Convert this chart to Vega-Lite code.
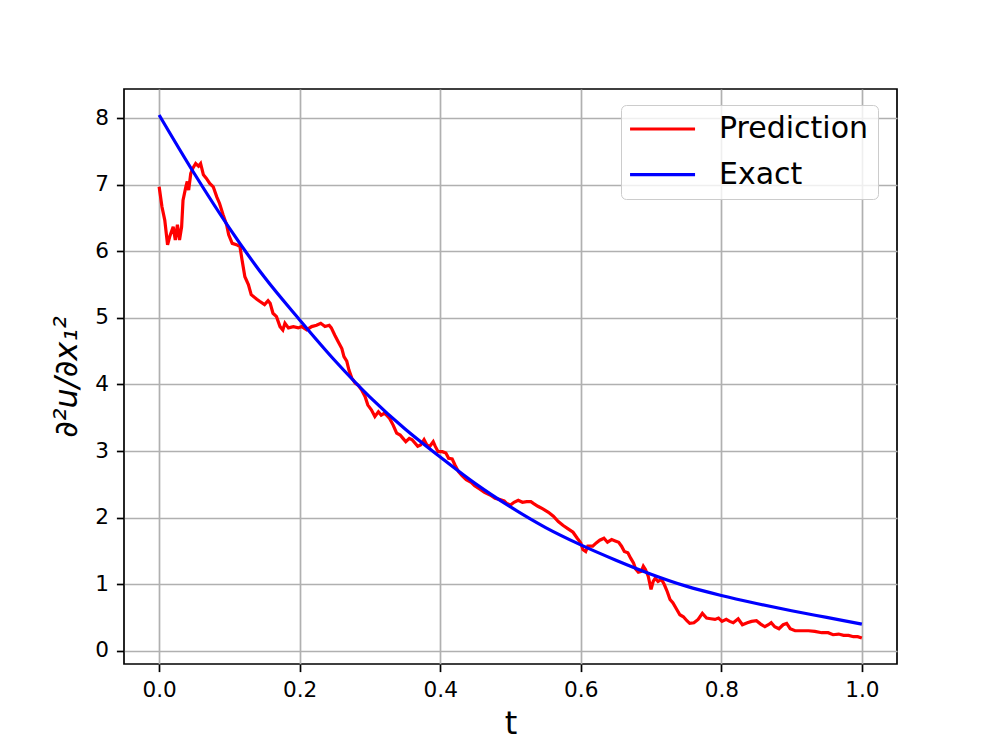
{
  "$schema": "https://vega.github.io/schema/vega-lite/v6.json",
  "width": 773,
  "height": 575,
  "autosize": {"type": "none"},
  "padding": {"left": 124, "top": 89, "right": 99, "bottom": 83},
  "background": "white",
  "config": {
    "font": "DejaVu Sans",
    "view": {"stroke": "black", "strokeWidth": 1.7},
    "axis": {
      "domain": false,
      "ticks": true,
      "tickColor": "black",
      "tickWidth": 1.7,
      "tickSize": 7.6,
      "labelFont": "DejaVu Sans",
      "labelFontSize": 21.6,
      "labelColor": "black",
      "labelPadding": 8,
      "grid": true,
      "gridColor": "#b0b0b0",
      "gridWidth": 1.7,
      "titleFont": "DejaVu Sans",
      "titleFontWeight": "normal",
      "titleColor": "black"
    },
    "legend": {
      "title": null,
      "orient": "none",
      "legendX": 497,
      "legendY": 16,
      "symbolType": "M-2.3,0H7.7",
      "symbolSize": 169,
      "symbolStrokeWidth": 3.2,
      "labelFont": "DejaVu Sans",
      "labelFontSize": 30,
      "labelColor": "black",
      "labelOffset": 59,
      "fillColor": "rgba(255,255,255,0.8)",
      "strokeColor": "#cccccc",
      "cornerRadius": 5,
      "padding": 9,
      "rowPadding": 15.7
    }
  },
  "datasets": {
    "pred": [
      {"s":"Prediction","t":0.000,"v":6.97},{"s":"Prediction","t":0.004,"v":6.67},{"s":"Prediction","t":0.008,"v":6.47},{"s":"Prediction","t":0.012,"v":6.10},{"s":"Prediction","t":0.015,"v":6.22},{"s":"Prediction","t":0.020,"v":6.37},{"s":"Prediction","t":0.023,"v":6.17},{"s":"Prediction","t":0.026,"v":6.40},{"s":"Prediction","t":0.029,"v":6.17},{"s":"Prediction","t":0.032,"v":6.37},{"s":"Prediction","t":0.034,"v":6.77},{"s":"Prediction","t":0.038,"v":6.97},{"s":"Prediction","t":0.040,"v":7.05},{"s":"Prediction","t":0.042,"v":6.92},{"s":"Prediction","t":0.045,"v":7.17},{"s":"Prediction","t":0.048,"v":7.25},{"s":"Prediction","t":0.052,"v":7.32},{"s":"Prediction","t":0.056,"v":7.28},{"s":"Prediction","t":0.059,"v":7.32},{"s":"Prediction","t":0.063,"v":7.15},{"s":"Prediction","t":0.067,"v":7.10},{"s":"Prediction","t":0.072,"v":7.02},{"s":"Prediction","t":0.077,"v":6.97},{"s":"Prediction","t":0.082,"v":6.82},{"s":"Prediction","t":0.086,"v":6.72},{"s":"Prediction","t":0.091,"v":6.55},{"s":"Prediction","t":0.096,"v":6.40},{"s":"Prediction","t":0.099,"v":6.25},{"s":"Prediction","t":0.104,"v":6.12},{"s":"Prediction","t":0.110,"v":6.10},{"s":"Prediction","t":0.115,"v":6.07},{"s":"Prediction","t":0.118,"v":5.87},{"s":"Prediction","t":0.122,"v":5.62},{"s":"Prediction","t":0.127,"v":5.50},{"s":"Prediction","t":0.131,"v":5.35},{"s":"Prediction","t":0.139,"v":5.28},{"s":"Prediction","t":0.143,"v":5.25},{"s":"Prediction","t":0.150,"v":5.20},{"s":"Prediction","t":0.155,"v":5.26},{"s":"Prediction","t":0.158,"v":5.22},{"s":"Prediction","t":0.162,"v":5.07},{"s":"Prediction","t":0.167,"v":5.02},{"s":"Prediction","t":0.172,"v":4.87},{"s":"Prediction","t":0.176,"v":4.82},{"s":"Prediction","t":0.179,"v":4.92},{"s":"Prediction","t":0.184,"v":4.85},{"s":"Prediction","t":0.191,"v":4.87},{"s":"Prediction","t":0.198,"v":4.85},{"s":"Prediction","t":0.203,"v":4.87},{"s":"Prediction","t":0.210,"v":4.82},{"s":"Prediction","t":0.217,"v":4.87},{"s":"Prediction","t":0.224,"v":4.89},{"s":"Prediction","t":0.230,"v":4.92},{"s":"Prediction","t":0.236,"v":4.87},{"s":"Prediction","t":0.242,"v":4.89},{"s":"Prediction","t":0.245,"v":4.85},{"s":"Prediction","t":0.250,"v":4.74},{"s":"Prediction","t":0.255,"v":4.64},{"s":"Prediction","t":0.260,"v":4.54},{"s":"Prediction","t":0.263,"v":4.42},{"s":"Prediction","t":0.267,"v":4.35},{"s":"Prediction","t":0.270,"v":4.22},{"s":"Prediction","t":0.274,"v":4.10},{"s":"Prediction","t":0.279,"v":4.02},{"s":"Prediction","t":0.283,"v":3.99},{"s":"Prediction","t":0.288,"v":3.92},{"s":"Prediction","t":0.293,"v":3.82},{"s":"Prediction","t":0.297,"v":3.69},{"s":"Prediction","t":0.302,"v":3.62},{"s":"Prediction","t":0.307,"v":3.52},{"s":"Prediction","t":0.312,"v":3.59},{"s":"Prediction","t":0.316,"v":3.54},{"s":"Prediction","t":0.321,"v":3.57},{"s":"Prediction","t":0.328,"v":3.49},{"s":"Prediction","t":0.333,"v":3.39},{"s":"Prediction","t":0.338,"v":3.27},{"s":"Prediction","t":0.343,"v":3.24},{"s":"Prediction","t":0.347,"v":3.19},{"s":"Prediction","t":0.351,"v":3.14},{"s":"Prediction","t":0.356,"v":3.19},{"s":"Prediction","t":0.360,"v":3.17},{"s":"Prediction","t":0.364,"v":3.12},{"s":"Prediction","t":0.368,"v":3.07},{"s":"Prediction","t":0.372,"v":3.09},{"s":"Prediction","t":0.377,"v":3.17},{"s":"Prediction","t":0.381,"v":3.09},{"s":"Prediction","t":0.385,"v":3.07},{"s":"Prediction","t":0.390,"v":3.14},{"s":"Prediction","t":0.393,"v":3.07},{"s":"Prediction","t":0.397,"v":2.99},{"s":"Prediction","t":0.403,"v":2.99},{"s":"Prediction","t":0.408,"v":2.97},{"s":"Prediction","t":0.412,"v":2.89},{"s":"Prediction","t":0.417,"v":2.88},{"s":"Prediction","t":0.421,"v":2.79},{"s":"Prediction","t":0.426,"v":2.69},{"s":"Prediction","t":0.431,"v":2.63},{"s":"Prediction","t":0.437,"v":2.57},{"s":"Prediction","t":0.444,"v":2.53},{"s":"Prediction","t":0.449,"v":2.48},{"s":"Prediction","t":0.456,"v":2.43},{"s":"Prediction","t":0.463,"v":2.38},{"s":"Prediction","t":0.471,"v":2.34},{"s":"Prediction","t":0.478,"v":2.29},{"s":"Prediction","t":0.485,"v":2.27},{"s":"Prediction","t":0.491,"v":2.25},{"s":"Prediction","t":0.495,"v":2.21},{"s":"Prediction","t":0.500,"v":2.19},{"s":"Prediction","t":0.505,"v":2.23},{"s":"Prediction","t":0.511,"v":2.26},{"s":"Prediction","t":0.517,"v":2.23},{"s":"Prediction","t":0.523,"v":2.24},{"s":"Prediction","t":0.529,"v":2.24},{"s":"Prediction","t":0.533,"v":2.21},{"s":"Prediction","t":0.539,"v":2.17},{"s":"Prediction","t":0.546,"v":2.13},{"s":"Prediction","t":0.554,"v":2.08},{"s":"Prediction","t":0.561,"v":2.02},{"s":"Prediction","t":0.568,"v":1.94},{"s":"Prediction","t":0.575,"v":1.88},{"s":"Prediction","t":0.582,"v":1.83},{"s":"Prediction","t":0.589,"v":1.78},{"s":"Prediction","t":0.595,"v":1.69},{"s":"Prediction","t":0.600,"v":1.62},{"s":"Prediction","t":0.603,"v":1.52},{"s":"Prediction","t":0.607,"v":1.49},{"s":"Prediction","t":0.610,"v":1.57},{"s":"Prediction","t":0.617,"v":1.57},{"s":"Prediction","t":0.622,"v":1.62},{"s":"Prediction","t":0.627,"v":1.66},{"s":"Prediction","t":0.633,"v":1.69},{"s":"Prediction","t":0.638,"v":1.63},{"s":"Prediction","t":0.644,"v":1.67},{"s":"Prediction","t":0.649,"v":1.65},{"s":"Prediction","t":0.654,"v":1.63},{"s":"Prediction","t":0.658,"v":1.57},{"s":"Prediction","t":0.662,"v":1.49},{"s":"Prediction","t":0.667,"v":1.47},{"s":"Prediction","t":0.671,"v":1.39},{"s":"Prediction","t":0.675,"v":1.32},{"s":"Prediction","t":0.678,"v":1.23},{"s":"Prediction","t":0.682,"v":1.18},{"s":"Prediction","t":0.686,"v":1.19},{"s":"Prediction","t":0.689,"v":1.27},{"s":"Prediction","t":0.692,"v":1.22},{"s":"Prediction","t":0.696,"v":1.12},{"s":"Prediction","t":0.700,"v":0.92},{"s":"Prediction","t":0.703,"v":1.04},{"s":"Prediction","t":0.706,"v":1.09},{"s":"Prediction","t":0.710,"v":1.04},{"s":"Prediction","t":0.715,"v":1.07},{"s":"Prediction","t":0.719,"v":0.99},{"s":"Prediction","t":0.723,"v":0.89},{"s":"Prediction","t":0.727,"v":0.77},{"s":"Prediction","t":0.731,"v":0.72},{"s":"Prediction","t":0.736,"v":0.63},{"s":"Prediction","t":0.741,"v":0.54},{"s":"Prediction","t":0.746,"v":0.51},{"s":"Prediction","t":0.751,"v":0.45},{"s":"Prediction","t":0.755,"v":0.41},{"s":"Prediction","t":0.761,"v":0.42},{"s":"Prediction","t":0.767,"v":0.47},{"s":"Prediction","t":0.773,"v":0.56},{"s":"Prediction","t":0.779,"v":0.49},{"s":"Prediction","t":0.785,"v":0.48},{"s":"Prediction","t":0.791,"v":0.47},{"s":"Prediction","t":0.796,"v":0.49},{"s":"Prediction","t":0.801,"v":0.44},{"s":"Prediction","t":0.807,"v":0.47},{"s":"Prediction","t":0.812,"v":0.44},{"s":"Prediction","t":0.817,"v":0.42},{"s":"Prediction","t":0.824,"v":0.48},{"s":"Prediction","t":0.830,"v":0.39},{"s":"Prediction","t":0.837,"v":0.42},{"s":"Prediction","t":0.843,"v":0.44},{"s":"Prediction","t":0.850,"v":0.45},{"s":"Prediction","t":0.856,"v":0.40},{"s":"Prediction","t":0.862,"v":0.36},{"s":"Prediction","t":0.867,"v":0.39},{"s":"Prediction","t":0.871,"v":0.42},{"s":"Prediction","t":0.876,"v":0.36},{"s":"Prediction","t":0.882,"v":0.33},{"s":"Prediction","t":0.888,"v":0.39},{"s":"Prediction","t":0.893,"v":0.41},{"s":"Prediction","t":0.898,"v":0.33},{"s":"Prediction","t":0.905,"v":0.30},{"s":"Prediction","t":0.914,"v":0.30},{"s":"Prediction","t":0.924,"v":0.30},{"s":"Prediction","t":0.933,"v":0.29},{"s":"Prediction","t":0.943,"v":0.27},{"s":"Prediction","t":0.952,"v":0.27},{"s":"Prediction","t":0.959,"v":0.24},{"s":"Prediction","t":0.967,"v":0.25},{"s":"Prediction","t":0.974,"v":0.23},{"s":"Prediction","t":0.981,"v":0.23},{"s":"Prediction","t":0.988,"v":0.21},{"s":"Prediction","t":0.994,"v":0.21},{"s":"Prediction","t":1.000,"v":0.19}
    ],
    "exact": [
      {"s":"Exact","t":0.00,"v":8.05},{"s":"Exact","t":0.05,"v":7.17},{"s":"Exact","t":0.10,"v":6.35},{"s":"Exact","t":0.15,"v":5.61},{"s":"Exact","t":0.20,"v":4.97},{"s":"Exact","t":0.25,"v":4.36},{"s":"Exact","t":0.30,"v":3.81},{"s":"Exact","t":0.35,"v":3.33},{"s":"Exact","t":0.40,"v":2.91},{"s":"Exact","t":0.45,"v":2.51},{"s":"Exact","t":0.50,"v":2.16},{"s":"Exact","t":0.55,"v":1.85},{"s":"Exact","t":0.60,"v":1.59},{"s":"Exact","t":0.65,"v":1.36},{"s":"Exact","t":0.70,"v":1.15},{"s":"Exact","t":0.75,"v":0.97},{"s":"Exact","t":0.80,"v":0.83},{"s":"Exact","t":0.85,"v":0.71},{"s":"Exact","t":0.90,"v":0.60},{"s":"Exact","t":0.95,"v":0.50},{"s":"Exact","t":1.00,"v":0.40}
    ]
  },
  "encoding": {
    "x": {
      "field": "t",
      "type": "quantitative",
      "scale": {"domain": [-0.05, 1.05], "nice": false, "zero": false},
      "axis": {"values": [0, 0.2, 0.4, 0.6, 0.8, 1.0], "format": ".1f", "title": "t", "titleFontSize": 32, "titlePadding": 7}
    },
    "y": {
      "field": "v",
      "type": "quantitative",
      "scale": {"domain": [-0.2, 8.44], "nice": false, "zero": false},
      "axis": {"values": [0, 1, 2, 3, 4, 5, 6, 7, 8], "format": "d", "title": "∂²u/∂x₁²", "titleFontSize": 32, "titleFontStyle": "italic", "titlePadding": 11}
    },
    "color": {
      "field": "s",
      "type": "nominal",
      "scale": {"domain": ["Prediction", "Exact"], "range": ["#ff0000", "#0000ff"]}
    }
  },
  "layer": [
    {"data": {"name": "pred"}, "mark": {"type": "line", "strokeWidth": 3.2, "clip": true}},
    {"data": {"name": "exact"}, "mark": {"type": "line", "strokeWidth": 3.2, "interpolate": "monotone", "clip": true}}
  ]
}
